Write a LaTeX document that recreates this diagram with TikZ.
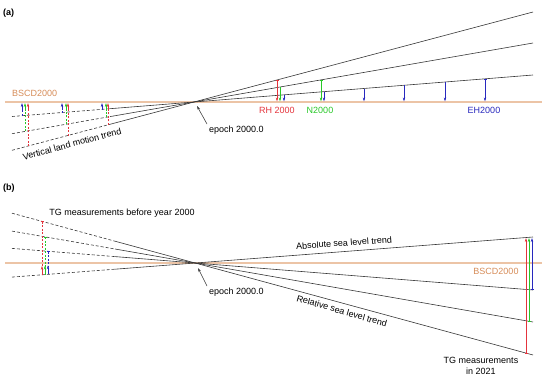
\documentclass[tikz,border=0pt]{standalone}
\usepackage{fontspec}
\setmainfont{Liberation Sans}
\usetikzlibrary{arrows.meta}
\definecolor{trendgray}{RGB}{55,55,55}
\definecolor{bscdline}{RGB}{236,196,166}
\definecolor{bscdtext}{RGB}{214,140,88}
\definecolor{cr}{RGB}{228,52,60}
\definecolor{cg}{RGB}{40,200,40}
\definecolor{cb}{RGB}{40,40,190}
\tikzset{
  trend/.style={draw=trendgray, line width=0.6pt},
  trenddash/.style={trend, dash pattern=on 3pt off 2pt},
  datum/.style={draw=bscdline, line width=1.3pt},
  lbl/.style={font=\fontsize{9}{11}\selectfont, inner sep=0pt},
  arr/.style={-{Stealth[length=4pt,width=2.4pt]}, line width=0.6pt},
  tarr/.style={{Bar[width=3pt]}-{Stealth[length=4pt,width=2.4pt]}, line width=0.6pt},
  vdash/.style={dash pattern=on 2pt off 1.5pt, line width=0.55pt},
  tickonly/.style={{Bar[width=3pt]}-},
}
\begin{document}
\begin{tikzpicture}[x=1pt,y=-1pt]
\useasboundingbox (0,0) rectangle (550,380);
% ================= panel (a) =================
\node[lbl, font=\fontsize{9}{11}\selectfont\bfseries, anchor=west] (pa) at (3,13) {(a)};
\draw[datum] (5,102) -- (542,102);
\node[lbl, text=bscdtext, anchor=west] (bscda) at (12,93) {BSCD2000};
\coordinate (Ca) at (194,102);
% trend lines
\draw[trend] (110,124.3) -- (533,12);
\draw[trend] (110,116.6) -- (533,43);
\draw[trend] (110,108.7) -- (533,75);
\draw[trenddash] (12,150.3) -- (110,124.3);
\draw[trenddash] (12,133.7) -- (110,116.6);
\draw[trenddash] (12,116.5) -- (110,108.7);
\node[lbl, rotate=15] (vlm) at (72,144) {Vertical land motion trend};
% left arrows
\foreach \x/\y/\c in {22/115.7/cb, 25/131.4/cg, 28/146.1/cr,
                      62/112.5/cb, 66/124.3/cg, 68/135.5/cr,
                      102/109.3/cb, 106/117.3/cg, 108/124.8/cr}{
  \draw[vdash, \c] (\x,\y) -- (\x,110);
  \draw[arr, \c] (\x,{min(\y,110)}) -- (\x,103);
}
% right arrows
\draw[tarr, cr] (277,80.0) -- (277,101.5);
\draw[arr, cg] (280,87.0) -- (280,101.5);
\draw[arr, cb] (284,94.8) -- (284,101.5);
\draw[tarr, cg] (321,79.9) -- (321,101.5);
\draw[arr, cb] (324,91.6) -- (324,101.5);
\foreach \x/\y in {364/88.5, 404/85.3, 445/82.0}{
  \draw[arr, cb] (\x,\y) -- (\x,101.5);
}
\draw[tarr, cb] (485,78.8) -- (485,101.5);
\node[lbl, text=cr] (rh) at (277,110) {RH 2000};
\node[lbl, text=cg] (n2) at (320,110) {N2000};
\node[lbl, text=cb] (eh) at (484,110) {EH2000};
\node[lbl, anchor=west] (epa) at (209,130) {epoch 2000.0};
\draw[-{Stealth[length=4pt,width=2.4pt]}, line width=0.55pt, trendgray] (207,124) -- (197,106);
% ================= panel (b) =================
\node[lbl, font=\fontsize{9}{11}\selectfont\bfseries, anchor=west] (pb) at (3,188) {(b)};
\draw[datum] (5,263) -- (542,263);
\coordinate (Cb) at (195,263);
\draw[trend] (115,241.2) -- (533,355);
\draw[trend] (115,249.0) -- (533,322);
\draw[trend] (115,256.6) -- (533,290);
\draw[trend] (115,269.2) -- (533,237);
\draw[trenddash] (12,213.2) -- (115,241.2);
\draw[trenddash] (12,231.1) -- (115,249.0);
\draw[trenddash] (12,248.4) -- (115,256.6);
\draw[trenddash] (12,277.1) -- (115,269.2);
% left arrows (b)
\foreach \x/\yt/\yb/\c in {42/221.4/274.8/cr, 45/236.8/274.5/cg, 48/251.3/274.3/cb}{
  \draw[vdash, tickonly, \c] (\x,\yt) -- (\x,{\yb-8});
  \draw[arr, \c] (\x,\yb) -- (\x,{\yb-9});
}
% right arrows (b)
\draw[tarr, cr] (526,353.1) -- (526,238);
\draw[tarr, cg] (529,321.3) -- (529,238);
\draw[tarr, cb] (532,289.9) -- (532,238);
\node[lbl] (tgb) at (122,213) {TG measurements before year 2000};
\node[lbl, rotate=4] (abs) at (344,243) {Absolute sea level trend};
\node[lbl, rotate=-16] (rel) at (342,311) {Relative sea level trend};
\node[lbl, text=bscdtext] (bscdb) at (496,271) {BSCD2000};
\node[lbl, align=center] (tg21) at (481,366) {TG measurements\\in 2021};
\node[lbl, anchor=west] (epb) at (209,292) {epoch 2000.0};
\draw[-{Stealth[length=4pt,width=2.4pt]}, line width=0.55pt, trendgray] (207,286) -- (198,268);
\end{tikzpicture}
\end{document}
